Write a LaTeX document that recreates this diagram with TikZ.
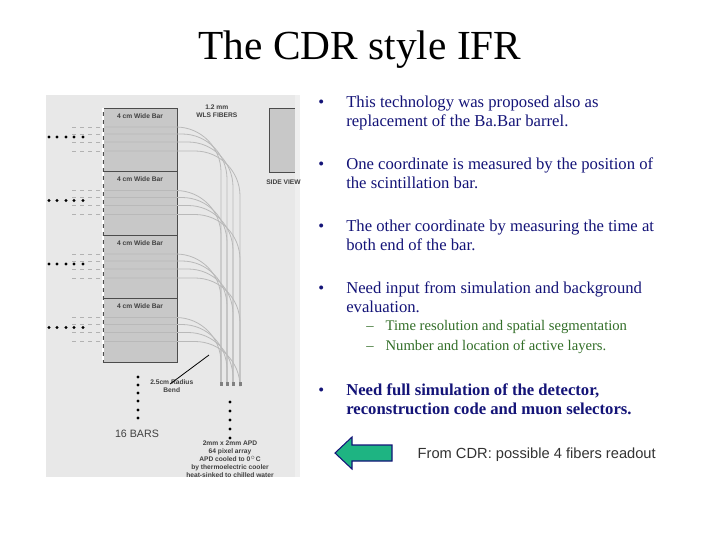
\documentclass[tikz,border=0pt]{standalone}
\usepackage{fontspec}
\setmainfont{Liberation Serif}
\newfontfamily\figsans{Liberation Sans}
\usetikzlibrary{positioning}
\definecolor{txtblue}{RGB}{20,20,120}
\definecolor{subgreen}{RGB}{50,110,40}
\definecolor{bargray}{RGB}{200,200,200}
\definecolor{bggray}{RGB}{232,232,232}
\definecolor{arrowgreen}{RGB}{30,180,130}

\tikzset{
	bullet/.style={anchor=north west, text=txtblue, font=\fontsize{12.5}{14.3}\selectfont, align=left, inner sep=0pt},
	subbullet/.style={anchor=north west, text=subgreen, font=\fontsize{11}{14}\selectfont, inner sep=0pt},
	fiber/.style={draw=gray!55, line width=0.6pt},
	figlabel/.style={font=\figsans\bfseries\fontsize{5}{6}\selectfont, text=black!75, inner sep=0pt, align=center}
}

\begin{document}
\begin{tikzpicture}[x=0.75pt,y=-0.75pt]

	\useasboundingbox (0,0) rectangle (720,540);
	\fill[white] (0,0) rectangle (720,540);

	% title
	\node (title) at (360,50) {\fontsize{31}{36}\selectfont The CDR style IFR};

	% figure
	\fill[bggray] (46,95) rectangle (295,477);
	\foreach \i in {0,1,2,3}{
		\pgfmathsetmacro{\yt}{108+63.5*\i}
		\draw[black!70, fill=bargray] (103,\yt) rectangle (177.5,\yt+63.5);
		\node[figlabel] (bar\i) at (140,\yt+8) {4 cm Wide Bar};
		\foreach \o/\xv in {19/221,26/227,34/233,43/240}{
			\draw[fiber] (103,\yt+\o) -- (\xv-45,\yt+\o) arc[start angle=-90, end angle=0, radius=45] -- (\xv,384);
			\draw[gray!60, dashed, line width=0.4pt] (72,\yt+\o) -- (103,\yt+\o);
		}
		\foreach \xd in {49,57,66,74,83}
			\fill (\xd,\yt+29) circle (1.7);
	}
	\draw[white, dashed, line width=0.8pt] (103,108) -- (103,362);
	\foreach \xv in {221,227,233,240}
		\fill[gray] (\xv-1.5,382) rectangle (\xv+1.5,386);
	\node[figlabel, anchor=north west] (wls) at (196,105) {1.2 mm\\WLS FIBERS};
	\draw[black!70, fill=bargray] (269,108) rectangle (299,172);
	\fill[bggray!70!white] (295,95) rectangle (300,477);
	\node[figlabel, anchor=west] (side) at (266,182) {SIDE VIEW};
	\foreach \yd in {377,385,393,401,410,418}
		\fill (138,\yd) circle (1.6);
	\node[font=\figsans\fontsize{8}{9}\selectfont, text=black!75] (bars) at (137,434) {16 BARS};
	\foreach \yd in {402,411,420,429,438}
		\fill (230,\yd) circle (1.6);
	\node[figlabel, anchor=north west] (bend) at (150,379) {2.5cm Radius\\Bend};
	\coordinate (bendtip) at (209,355);
	\draw[black, line width=0.6pt] (170,384) -- (bendtip);
	\node[figlabel, anchor=north] (apd) at (230,441) {2mm x 2mm APD\\64 pixel array\\APD cooled to 0$^\circ$C\\by thermoelectric cooler\\heat-sinked to chilled water};

	% bullets
	\foreach \n/\y/\t in {
		b1/94/{This technology was proposed also as\\replacement of the Ba.Bar barrel.},
		b2/156/{One coordinate is measured by the position of\\the scintillation bar.},
		b3/218/{The other coordinate by measuring the time at\\both end of the bar.},
		b4/280/{Need input from simulation and background\\evaluation.}}{
		\node[bullet] at (318,\y) {\strut\textbullet};
		\node[bullet] (\n) at (346,\y) {\strut\t};
	}
	\node[subbullet] (s1) at (366,320) {--\hspace{9pt}Time resolution and spatial segmentation};
	\node[subbullet] (s2) at (366,340) {--\hspace{9pt}Number and location of active layers.};
	\node[bullet] at (318,382) {\strut\textbullet};
	\node[bullet, font=\bfseries\fontsize{12.5}{14.3}\selectfont] (b5) at (346,382) {\strut Need full simulation of the detector,\\reconstruction code and muon selectors.};

	% arrow
	\draw[txtblue, fill=arrowgreen, line width=0.8pt] (335,453) -- (352,437) -- (352,445) -- (392,445) -- (392,461) -- (352,461) -- (352,469) -- cycle;
	\node[anchor=west, text=black!80, font=\figsans\fontsize{11}{13}\selectfont] (cdr) at (413,455) {From CDR: possible 4 fibers readout};

\end{tikzpicture}
\end{document}
